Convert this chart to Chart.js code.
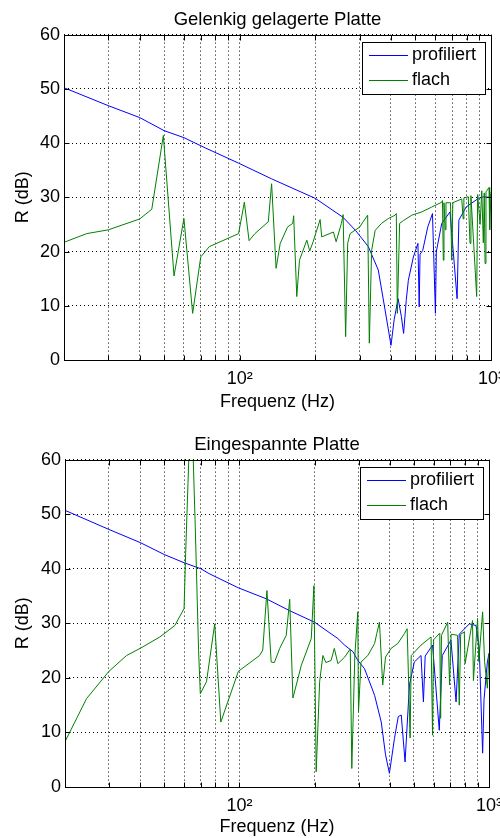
<!DOCTYPE html>
<html>
<head>
<meta charset="utf-8">
<script src="https://cdn.jsdelivr.net/npm/chart.js@4.4.0/dist/chart.umd.min.js"></script>
<style>
  body { margin: 0; background: #fff; }
  .panel { position: absolute; left: 0; width: 500px; height: 419px; }
</style>
</head>
<body>
<div class="panel" style="top:0"><canvas id="topChart" width="500" height="419"></canvas></div>
<div class="panel" style="top:419px"><canvas id="bottomChart" width="500" height="419"></canvas></div>
<script>
// axis ticks / labels
const yTicks = [0, 10, 20, 30, 40, 50, 60];
const xGridTicks = [20, 30, 40, 50, 60, 70, 80, 90, 100, 200, 300, 400, 500, 600, 700, 800, 900, 1000];
const xLabelValues = [100, 1000];
const xLabelTexts = ['10\u00b2', '10\u00b3'];
const seriesNames = ['profiliert', 'flach'];

// top panel: Gelenkig gelagerte Platte
const topProfFreq = [20, 30, 40, 50, 60, 73, 99, 134, 200, 258, 289, 325, 356, 379, 400, 412, 427, 440, 449, 460, 469, 491, 512, 518, 522, 535, 560, 585, 601, 606, 637, 687, 733, 745, 796, 891, 935, 975, 1000];
const topProfR = [50.2, 46.9, 44.7, 42.3, 41.0, 39.1, 36.3, 33.4, 29.8, 26.3, 23.9, 20.9, 16.6, 9.2, 2.7, 7.5, 11.3, 8.0, 4.9, 11.0, 14.7, 19.0, 21.5, 9.8, 19.5, 20.2, 24.5, 27.0, 8.6, 20.0, 25.2, 27.3, 11.3, 25.8, 28.2, 29.8, 30.1, 30.0, 30.5];
const topFlachFreq = [20, 24.6, 30, 40, 44.7, 49.7, 54.8, 60, 65, 70, 75.7, 99, 104.4, 109, 115, 130, 134, 139.6, 145, 155, 162.6, 164, 168.7, 173, 185, 190, 196, 209, 212, 236, 242, 254, 258, 264, 269, 275, 300, 310, 323, 328, 335, 346, 367, 391, 415, 420, 424, 433, 448, 484, 530, 581, 637, 641, 646, 650, 658, 662, 690, 698, 705, 765, 775, 780, 812, 825, 832, 877, 885, 905, 919, 932, 940, 947, 955, 982, 988, 1000];
const topFlachR = [21.7, 23.3, 24.0, 26.0, 27.8, 41.4, 15.5, 26.1, 8.6, 19.0, 20.9, 23.3, 29.1, 22.0, 23.3, 25.5, 32.5, 16.9, 21.5, 24.5, 25.2, 26.6, 11.7, 18.4, 22.1, 20.1, 21.8, 25.9, 22.7, 23.6, 21.8, 25.2, 26.8, 4.3, 21.5, 23.3, 24.5, 25.5, 26.7, 3.1, 20.2, 23.9, 25.2, 26.1, 26.7, 27.0, 8.6, 25.2, 25.7, 26.7, 27.3, 28.2, 29.1, 29.4, 18.4, 29.0, 24.0, 29.0, 29.0, 18.4, 29.0, 29.7, 26.0, 29.9, 30.1, 21.5, 30.3, 11.7, 30.5, 25.0, 31.2, 21.6, 30.8, 17.8, 31.0, 31.8, 24.0, 31.0];

// bottom panel: Eingespannte Platte
const botProfFreq = [20, 30, 40, 50, 60, 70, 75.6, 99, 128, 159, 200, 248, 264, 285, 298, 317, 348, 370, 385, 399, 418, 433, 445, 461, 480, 502, 534, 546, 555, 594, 632, 650, 704, 738, 760, 834, 887, 914, 943, 955, 985, 1000];
const botProfR = [50.7, 47.2, 44.8, 42.6, 41.1, 40.0, 39.1, 36.5, 34.5, 32.3, 30.2, 27.2, 26.0, 24.8, 23.2, 21.7, 16.8, 11.9, 5.9, 2.5, 8.9, 12.9, 13.2, 4.6, 18.7, 22.9, 24.1, 15.6, 24.0, 26.0, 10.4, 24.1, 26.9, 15.6, 28.0, 29.9, 29.6, 25.4, 6.2, 16.0, 22.9, 24.5];
const botFlachFreq = [20, 24.4, 30, 35.3, 40, 48, 55.1, 60, 60.9, 62.2, 63.5, 65.3, 66.4, 67.5, 68.6, 69.7, 73.8, 79.6, 84.2, 99, 120.5, 124, 128.9, 134, 138, 145, 154, 159, 163.8, 177, 194, 198.8, 203, 209.6, 216, 222, 233, 240, 248, 264, 278, 282, 290, 298, 300, 307, 327, 348, 355, 364, 375, 385, 405, 431, 458, 470, 483, 488, 534, 586, 594, 600, 635, 640, 645, 683, 695, 705, 748, 760, 770, 796, 802, 859, 866, 900, 910, 943, 960, 985, 1000];
const botFlachR = [8.3, 16.2, 21.2, 24.1, 25.4, 27.5, 29.6, 32.7, 43.0, 55.6, 68.0, 60.0, 49.0, 37.0, 25.0, 17.1, 19.3, 29.9, 11.9, 21.2, 24.1, 25.1, 36.0, 22.9, 22.8, 25.4, 27.8, 34.4, 16.3, 22.3, 27.2, 36.9, 2.8, 19.3, 24.1, 22.8, 23.2, 25.4, 22.6, 23.8, 25.3, 3.4, 24.1, 32.1, 13.8, 22.9, 24.1, 26.3, 28.1, 30.2, 18.7, 23.8, 25.4, 26.3, 28.1, 29.0, 9.0, 24.1, 26.0, 27.5, 9.5, 27.0, 28.2, 12.6, 27.8, 30.2, 18.7, 28.0, 27.8, 15.0, 28.0, 28.4, 22.6, 30.5, 19.5, 30.9, 23.0, 32.1, 23.0, 18.1, 24.5];

const colors = { prof: '#0000ff', flach: '#008000' };

Chart.defaults.font.family = 'Liberation Sans, Arial, sans-serif';
Chart.defaults.font.size = 18;
Chart.defaults.color = '#000';

function toPoints(freq, vals) {
  return freq.map((f, i) => ({ x: f, y: vals[i] }));
}

// box, inner tick marks and the boxed legend (matlab style)
const frameAndLegend = {
  id: 'frameAndLegend',
  afterDatasetsDraw(chart) {
    const { ctx, chartArea: a, scales } = chart;
    const L = Math.round(a.left) + 0.5, R = Math.round(a.right) + 0.5;
    const T = Math.round(a.top) + 0.5, B = Math.round(a.bottom) + 0.5;
    ctx.save();
    ctx.setLineDash([]);
    ctx.strokeStyle = '#000';
    ctx.lineWidth = 1;
    ctx.beginPath();
    yTicks.forEach(v => {
      const y = Math.round(scales.y.getPixelForValue(v)) + 0.5;
      ctx.moveTo(L, y); ctx.lineTo(L + 5, y);
      ctx.moveTo(R, y); ctx.lineTo(R - 5, y);
    });
    xGridTicks.forEach(v => {
      const x = Math.round(scales.x.getPixelForValue(v)) + 0.5;
      ctx.moveTo(x, B); ctx.lineTo(x, B - 5);
      ctx.moveTo(x, T); ctx.lineTo(x, T + 5);
    });
    ctx.stroke();
    ctx.strokeRect(L, T, R - L, B - T);

    // legend
    const w = 123, h = 52;
    const bx = Math.round(a.right) - 6 - w, by = Math.round(a.top) + 7;
    const lineColors = [colors.prof, colors.flach];
    ctx.fillStyle = '#fff';
    ctx.fillRect(bx, by, w, h);
    ctx.strokeRect(bx + 0.5, by + 0.5, w, h);
    ctx.font = '18px Liberation Sans, Arial, sans-serif';
    ctx.textBaseline = 'middle';
    chart.data.datasets.forEach((ds, i) => {
      const ly = by + 13.5 + i * 25;
      ctx.strokeStyle = lineColors[i];
      ctx.beginPath();
      ctx.moveTo(bx + 7, ly); ctx.lineTo(bx + 46, ly);
      ctx.stroke();
      ctx.fillStyle = '#000';
      ctx.fillText(ds.label, bx + 50, ly);
    });
    ctx.restore();
  }
};

function makeChart(id, title, profFreq, profR, flachFreq, flachR, lay) {
  return new Chart(document.getElementById(id), {
    type: 'line',
    data: {
      datasets: [
        { label: seriesNames[0], data: toPoints(profFreq, profR), borderColor: colors.prof, borderWidth: 1, pointRadius: 0, tension: 0, order: 1 },
        { label: seriesNames[1], data: toPoints(flachFreq, flachR), borderColor: colors.flach, borderWidth: 1, pointRadius: 0, tension: 0, order: 0 }
      ]
    },
    options: {
      responsive: false,
      animation: false,
      events: [],
      layout: { padding: { left: 0, right: lay.padRight, top: 0, bottom: 0 } },
      plugins: {
        legend: { display: false },
        tooltip: { enabled: false },
        title: {
          display: true, text: title, fullSize: false,
          font: { size: 18.5, weight: 'normal' },
          padding: { top: lay.titleTop, bottom: lay.titleBottom }
        }
      },
      scales: {
        x: {
          type: 'logarithmic', min: 20, max: 1000,
          afterBuildTicks: s => { s.ticks = xGridTicks.map(v => ({ value: v })); },
          afterFit: s => { s.height = lay.xHeight; s.paddingLeft = 0; s.paddingRight = 0; },
          ticks: {
            autoSkip: false, maxRotation: 0, padding: 8,
            callback: v => { const i = xLabelValues.indexOf(v); return i >= 0 ? xLabelTexts[i] : ''; }
          },
          grid: { color: '#000', lineWidth: 1, drawTicks: false },
          border: { display: false, dash: [1, 3] },
          title: { display: true, text: 'Frequenz (Hz)', font: { size: 18 }, padding: { top: 0, bottom: lay.xTitleBottom } }
        },
        y: {
          min: 0, max: 60,
          afterBuildTicks: s => { s.ticks = yTicks.map(v => ({ value: v })); },
          afterFit: s => { s.width = lay.yWidth; s.paddingTop = 0; s.paddingBottom = 0; },
          ticks: { padding: 4 },
          grid: { color: '#000', lineWidth: 1, drawTicks: false },
          border: { display: false, dash: [1, 3] },
          title: { display: true, text: 'R (dB)', font: { size: 18 }, padding: { top: 12, bottom: 0 } }
        }
      }
    },
    plugins: [frameAndLegend]
  });
}

makeChart('topChart', 'Gelenkig gelagerte Platte', topProfFreq, topProfR, topFlachFreq, topFlachR,
  { padRight: 9, yWidth: 64, xHeight: 59, titleTop: 9, titleBottom: 3.4, xTitleBottom: 6 });
makeChart('bottomChart', 'Eingespannte Platte', botProfFreq, botProfR, botFlachFreq, botFlachR,
  { padRight: 11, yWidth: 65, xHeight: 51, titleTop: 15.2, titleBottom: 3.2, xTitleBottom: 0 });
</script>
</body>
</html>
